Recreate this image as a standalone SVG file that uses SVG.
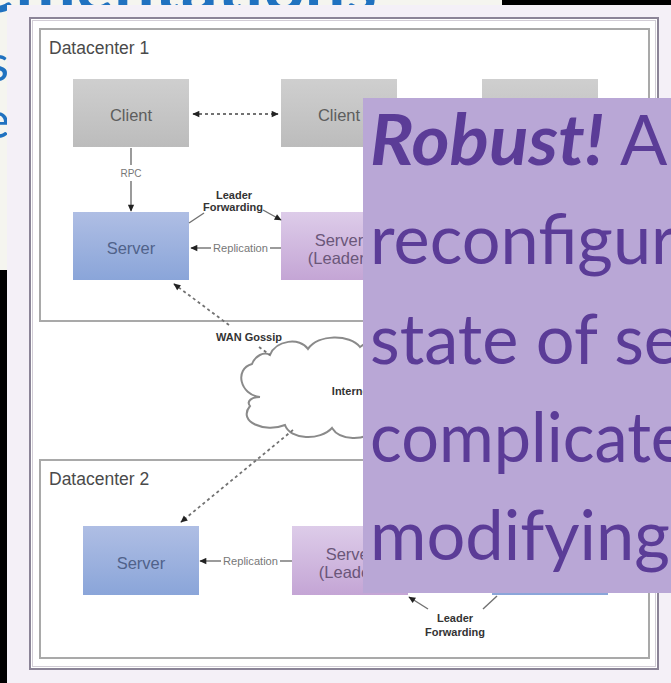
<svg xmlns="http://www.w3.org/2000/svg" width="671" height="683" viewBox="0 0 671 683">
  <defs>
    <linearGradient id="gClient" x1="0" y1="0" x2="0" y2="1">
      <stop offset="0" stop-color="#cfcfcf"/>
      <stop offset="1" stop-color="#bcbcbc"/>
    </linearGradient>
    <linearGradient id="gServer" x1="0" y1="0" x2="0" y2="1">
      <stop offset="0" stop-color="#afbee4"/>
      <stop offset="1" stop-color="#8aa5d9"/>
    </linearGradient>
    <linearGradient id="gLeader" x1="0" y1="0" x2="0" y2="1">
      <stop offset="0" stop-color="#ddcce9"/>
      <stop offset="1" stop-color="#c4a5d5"/>
    </linearGradient>
    <marker id="ah" viewBox="0 0 10 10" refX="9" refY="5" markerWidth="8" markerHeight="7" markerUnits="userSpaceOnUse" orient="auto-start-reverse">
      <path d="M0,0.5 L10,5 L0,9.5 z" fill="#222"/>
    </marker>
  </defs>
  <style>
    .lbl{font-family:"Liberation Sans",Arial,sans-serif;text-anchor:middle}
    .node{font-size:16.5px}
    .client{fill:#5d5d5d}
    .server{fill:#50628a}
    .leader{fill:#6a5679}
    .small{font-size:10px;fill:#777}
    .bold{font-size:11px;font-weight:bold;fill:#333}
    .dc{font-family:"Liberation Sans",Arial,sans-serif;font-size:17.5px;fill:#4a4a4a}
    .solid{stroke:#707070;stroke-width:1.4;fill:none}
    .dotted{stroke:#727272;stroke-width:1.8;fill:none;stroke-dasharray:3 3}
    .box{fill:#fff;stroke:#a9a9a9;stroke-width:2}
    .slide{font-family:Lato,"Liberation Sans",sans-serif;fill:#2072c0}
    .overlay text{font-family:Lato,"Liberation Sans",sans-serif;font-size:70px;fill:#5b3c97}
  </style>

  <!-- slide behind the panel -->
  <rect x="0" y="0" width="671" height="683" fill="#f5f5ef"/>
  <text class="slide" x="377" y="12" font-size="72" font-weight="bold" text-anchor="end">Implementations</text>
  <text class="slide" x="9" y="81" font-size="50" text-anchor="end">s</text>
  <text class="slide" x="10" y="138" font-size="50" text-anchor="end">e</text>
  <rect x="502" y="0" width="169" height="5" fill="#000"/>
  <rect x="0" y="270" width="7" height="413" fill="#000"/>

  <!-- diagram panel -->
  <rect x="7" y="5" width="664" height="678" fill="#f4f0f7"/>
  <rect x="30" y="18" width="628" height="651" fill="#fff" stroke="#8b8497" stroke-width="2"/>
  <rect x="32.5" y="20.5" width="623" height="646" fill="none" stroke="#d2cdd6" stroke-width="1"/>

  <g id="dc1">
    <rect class="box" x="40" y="29" width="609" height="292"/>
    <text class="dc" x="49" y="54">Datacenter 1</text>
  </g>
  <g id="dc2">
    <rect class="box" x="40" y="460" width="609" height="198"/>
    <text class="dc" x="49" y="485">Datacenter 2</text>
  </g>

  <g id="dc1-client-1">
    <rect x="73" y="79" width="116" height="68" fill="url(#gClient)"/>
    <text class="lbl node client" x="131" y="121">Client</text>
  </g>
  <g id="dc1-client-2">
    <rect x="281" y="79" width="116" height="68" fill="url(#gClient)"/>
    <text class="lbl node client" x="339" y="121">Client</text>
  </g>
  <g id="dc1-client-3">
    <rect x="482" y="79" width="116" height="68" fill="url(#gClient)"/>
  </g>
  <g id="dc1-server">
    <rect x="73" y="212" width="116" height="68" fill="url(#gServer)"/>
    <text class="lbl node server" x="131" y="254">Server</text>
  </g>
  <g id="dc1-leader">
    <rect x="281" y="212" width="116" height="68" fill="url(#gLeader)"/>
    <text class="lbl node leader" x="339" y="246">Server</text>
    <text class="lbl node leader" x="339" y="264">(Leader)</text>
  </g>
  <g id="internet">
    <path d="M270,355 C276,340 300,337 308,349 C318,334 350,334 360,347 C376,334 410,340 412,360 C430,365 432,395 415,405 C420,425 395,440 375,430 C365,441 340,441 332,428 C320,441 290,440 285,425 C265,433 237,422 250,406 C246,401 252,397 260,397 C240,395 234,369 252,364 C255,356 264,351 270,355 Z" fill="#fff" stroke="#8a8a8a" stroke-width="2"/>
    <text class="lbl bold" x="352" y="395">Internet</text>
  </g>
  <g id="dc2-server">
    <rect x="83" y="526" width="116" height="69" fill="url(#gServer)"/>
    <text class="lbl node server" x="141" y="569">Server</text>
  </g>
  <g id="dc2-leader">
    <rect x="292" y="526" width="116" height="69" fill="url(#gLeader)"/>
    <text class="lbl node leader" x="350" y="560">Server</text>
    <text class="lbl node leader" x="350" y="578">(Leader)</text>
  </g>
  <g id="dc2-server-3">
    <rect x="492" y="526" width="116" height="69" fill="url(#gServer)"/>
  </g>

  <g id="connectors">
    <!-- clients -->
    <line class="dotted" x1="193" y1="114" x2="278" y2="114" marker-start="url(#ah)" marker-end="url(#ah)" stroke-dasharray="2 3"/>
    <!-- RPC -->
    <line class="solid" x1="131" y1="148" x2="131" y2="165"/>
    <text class="lbl small" x="131" y="177">RPC</text>
    <line class="solid" x1="131" y1="181" x2="131" y2="211" marker-end="url(#ah)"/>
    <!-- DC1 leader forwarding -->
    <line class="solid" x1="189" y1="223" x2="204" y2="213"/>
    <text class="lbl bold" x="234" y="199">Leader</text>
    <text class="lbl bold" x="233" y="211">Forwarding</text>
    <line class="solid" x1="263" y1="210" x2="281" y2="220" marker-end="url(#ah)"/>
    <!-- DC1 replication -->
    <line class="solid" x1="211" y1="248" x2="191" y2="248" marker-end="url(#ah)"/>
    <text class="lbl small" x="240.5" y="251.5" textLength="55" lengthAdjust="spacingAndGlyphs">Replication</text>
    <line class="solid" x1="270" y1="248" x2="281" y2="248"/>
    <!-- WAN gossip -->
    <line class="dotted" x1="229" y1="325" x2="174" y2="284" marker-end="url(#ah)"/>
    <text class="lbl bold" x="249" y="341">WAN Gossip</text>
    <line class="dotted" x1="259" y1="347" x2="270" y2="355"/>
    <line class="dotted" x1="293" y1="430" x2="181" y2="522" marker-end="url(#ah)"/>
    <!-- DC2 replication -->
    <line class="solid" x1="221" y1="561" x2="200" y2="561" marker-end="url(#ah)"/>
    <text class="lbl small" x="250.5" y="564.5" textLength="55" lengthAdjust="spacingAndGlyphs">Replication</text>
    <line class="solid" x1="280" y1="561" x2="292" y2="561"/>
    <!-- DC2 leader forwarding -->
    <line class="solid" x1="428" y1="609" x2="409" y2="597" marker-end="url(#ah)"/>
    <text class="lbl bold" x="455" y="622">Leader</text>
    <text class="lbl bold" x="455" y="636">Forwarding</text>
    <line class="solid" x1="483" y1="609" x2="497" y2="596"/>
  </g>

  <!-- callout panel -->
  <g id="callout" class="overlay">
    <rect x="363" y="98" width="308" height="495" fill="#b9a7d6"/>
    <text x="370" y="165" font-weight="bold" font-style="italic" textLength="234" lengthAdjust="spacingAndGlyphs">Robust!</text>
    <text x="620" y="165">A</text>
    <text x="370" y="264" textLength="306" lengthAdjust="spacingAndGlyphs">reconfigur</text>
    <text x="370" y="364" textLength="310" lengthAdjust="spacingAndGlyphs">state of se</text>
    <text x="370" y="462" textLength="316" lengthAdjust="spacingAndGlyphs">complicate</text>
    <text x="370" y="560" textLength="300" lengthAdjust="spacingAndGlyphs">modifying</text>
  </g>
</svg>
